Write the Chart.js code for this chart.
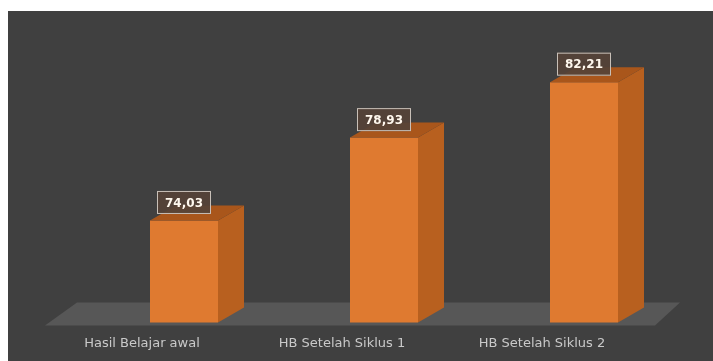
<!DOCTYPE html>
<html>
<head>
<meta charset="utf-8">
<script src="https://cdn.jsdelivr.net/npm/chart.js@4"></script>
<style>
  body { margin: 0; background: #ffffff; overflow: hidden; }
  #wrap { position: absolute; left: 8px; top: 11px; width: 705px; height: 350px; background: #404040; }
</style>
</head>
<body>
<div id="wrap"><canvas id="hbChart"></canvas></div>
<script>
// data
const categories = ["Hasil Belajar awal", "HB Setelah Siklus 1", "HB Setelah Siklus 2"];
const nilai = [74.03, 78.93, 82.21];
const labelTeks = ["74,03", "78,93", "82,21"];

const frontColor = "#df7a30";
const sideColor = "#b8601f";
const topColor = "#a9561b";

// grey floor under the bars
const floorPlugin = {
  id: "floor",
  beforeDatasetsDraw(chart) {
    const ctx = chart.ctx;
    const area = chart.chartArea;
    const base = area.bottom;
    ctx.save();
    ctx.fillStyle = "#575757";
    ctx.beginPath();
    ctx.moveTo(area.left - 7, base - 20);
    ctx.lineTo(area.right - 4, base - 20);
    ctx.lineTo(area.right - 29, base + 3);
    ctx.lineTo(area.left - 39, base + 3);
    ctx.closePath();
    ctx.fill();
    ctx.restore();
  }
};

// side + top faces and the value boxes
const bar3d = {
  id: "bar3d",
  afterDatasetsDraw(chart) {
    const ctx = chart.ctx;
    const meta = chart.getDatasetMeta(0);
    const base = chart.chartArea.bottom;
    const dx = 26, dy = 15;
    ctx.save();
    meta.data.forEach((bar, i) => {
      const left = bar.x - bar.width / 2;
      const right = bar.x + bar.width / 2;
      const top = bar.y;

      ctx.fillStyle = sideColor;
      ctx.beginPath();
      ctx.moveTo(right, top);
      ctx.lineTo(right + dx, top - dy);
      ctx.lineTo(right + dx, base - dy);
      ctx.lineTo(right, base);
      ctx.closePath();
      ctx.fill();

      ctx.fillStyle = topColor;
      ctx.beginPath();
      ctx.moveTo(left, top);
      ctx.lineTo(left + dx, top - dy);
      ctx.lineTo(right + dx, top - dy);
      ctx.lineTo(right, top);
      ctx.closePath();
      ctx.fill();

      // value label box
      ctx.font = "bold 12px 'DejaVu Sans'";
      const w = 54, h = 23;
      const cy = top - 18;
      ctx.fillStyle = "rgba(85,66,55,0.92)";
      ctx.fillRect(bar.x - w / 2, cy - h / 2, w, h);
      ctx.strokeStyle = "#c8c0b8";
      ctx.lineWidth = 1;
      ctx.strokeRect(bar.x - w / 2 + 0.5, cy - h / 2 + 0.5, w - 1, h - 1);
      ctx.fillStyle = "#fff8ee";
      ctx.textAlign = "center";
      ctx.textBaseline = "middle";
      ctx.fillText(labelTeks[i], bar.x, cy + 1);
    });
    ctx.restore();
  }
};

new Chart("hbChart", {
  type: "bar",
  data: {
    labels: categories,
    datasets: [{
      data: nilai,
      backgroundColor: frontColor,
      borderWidth: 0,
      barPercentage: 0.34,
      categoryPercentage: 1
    }]
  },
  options: {
    responsive: true,
    maintainAspectRatio: false,
    animation: false,
    layout: { padding: { left: 76, right: 29, top: 24, bottom: -3 } },
    plugins: { legend: { display: false }, tooltip: { enabled: false } },
    scales: {
      y: { display: false, min: 68, max: 85 },
      x: {
        grid: { display: false, drawTicks: false },
        border: { display: false },
        ticks: {
          color: "#c9c9c9",
          font: { family: "DejaVu Sans", size: 13 },
          padding: 13,
          labelOffset: -42,
          maxRotation: 0
        }
      }
    }
  },
  plugins: [floorPlugin, bar3d]
});
</script>
</body>
</html>
